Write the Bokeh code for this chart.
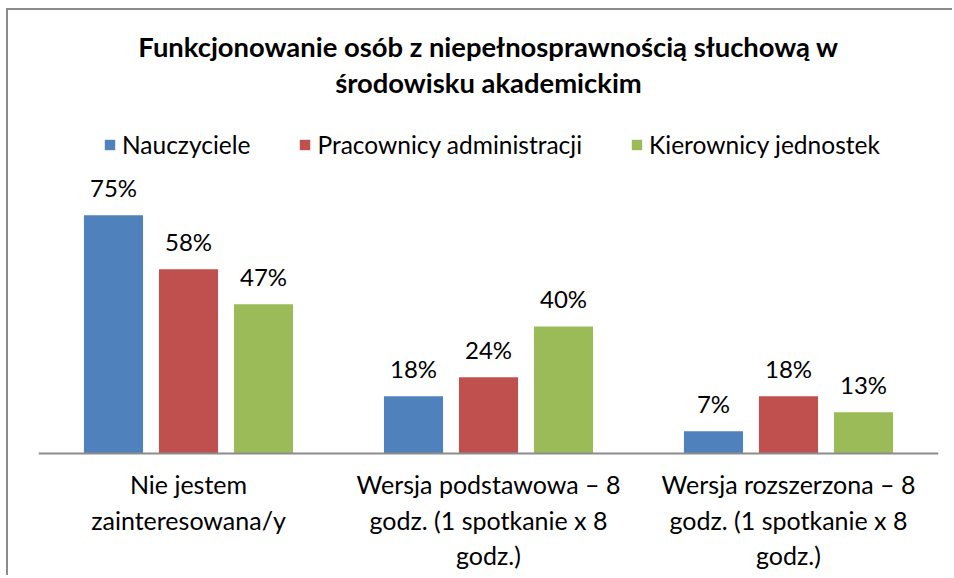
from bokeh.plotting import figure
from bokeh.models import ColumnDataSource, FactorRange, Range1d, Span
from bokeh.transform import dodge
from bokeh.core.properties import value
from bokeh.embed import file_html
from bokeh.resources import INLINE

# ---- data ----
categories = [
    "Nie jestem zainteresowana/y",
    "Wersja podstawowa – 8 godz. (1 spotkanie x 8 godz.)",
    "Wersja rozszerzona – 8 godz. (1 spotkanie x 8 godz.)",
]
tick_labels = [
    "Nie jestem\nzainteresowana/y",
    "Wersja podstawowa – 8\ngodz. (1 spotkanie x 8\ngodz.)",
    "Wersja rozszerzona – 8\ngodz. (1 spotkanie x 8\ngodz.)",
]
series_names = ["Nauczyciele", "Pracownicy administracji", "Kierownicy jednostek"]
nauczyciele = [75, 18, 7]
pracownicy = [58, 24, 18]
kierownicy = [47, 40, 13]
colors = ["#4F81BD", "#C0504D", "#9BBB59"]
title_lines = ["Funkcjonowanie osób z niepełnosprawnością słuchową w", "środowisku akademickim"]

FONT = "Lato"

source = ColumnDataSource(dict(
    cat=categories,
    tick=tick_labels,
    zero=[0] * len(categories),
    s0=nauczyciele, s1=pracownicy, s2=kierownicy,
    l0=[f"{v}%" for v in nauczyciele],
    l1=[f"{v}%" for v in pracownicy],
    l2=[f"{v}%" for v in kierownicy],
))

p = figure(
    width=946, height=567,
    x_range=FactorRange(*categories, range_padding=0),
    y_range=Range1d(-39.05, 139.5),
    output_backend="svg", toolbar_location=None,
    min_border_left=30, min_border_right=16, min_border_top=0, min_border_bottom=0,
)
# outer chart border: only its left and top edges fall inside the picture
p.styles = {"margin-left": "6px", "margin-top": "8px",
            "border-left": "2px solid #8c8c8c", "border-top": "2px solid #8c8c8c"}
p.outline_line_color = None
p.background_fill_color = "white"
p.border_fill_color = "white"
p.xgrid.grid_line_color = None
p.ygrid.grid_line_color = None
p.xaxis.visible = False
p.yaxis.visible = False

# baseline (category axis line)
p.add_layout(Span(location=0, dimension="width", line_color="#8c8c8c", line_width=2))

offsets = [-0.25, 0.0, 0.25]
for i, (name, col) in enumerate(zip(series_names, colors)):
    p.vbar(x=dodge("cat", offsets[i], range=p.x_range), top=f"s{i}", width=0.197,
           source=source, fill_color=col, line_color=None, legend_label=name)
    p.text(x=dodge("cat", offsets[i], range=p.x_range), y=f"s{i}", text=f"l{i}",
           source=source, text_align="center", text_baseline="alphabetic",
           y_offset=-28, text_font=value(FONT), text_font_size="24px", text_color="#000000")

# category labels
p.text(x="cat", y="zero", text="tick", source=source, text_align="center",
       text_baseline="top", y_offset=16, text_font=value(FONT), text_font_size="25px",
       text_line_height=1.17, text_color="#000000")

# title
p.text(x=[categories[1]] * 2, y=[128.2, 116.9], text=title_lines,
       text_align="center", text_baseline="alphabetic", text_font=value(FONT),
       text_font_size="27.4px", text_font_style="bold", text_color="#000000")

# legend
lg = p.legend[0]
lg.orientation = "horizontal"
lg.location = (65, 418)
lg.border_line_color = None
lg.background_fill_alpha = 0
lg.padding = 0
lg.margin = 0
lg.spacing = 48
lg.glyph_width = 13
lg.glyph_height = 13
lg.label_standoff = 6
lg.label_text_font = FONT
lg.label_text_font_size = "24.5px"
lg.label_text_color = "#000000"

open("out.html", "w").write(file_html(p, INLINE))
